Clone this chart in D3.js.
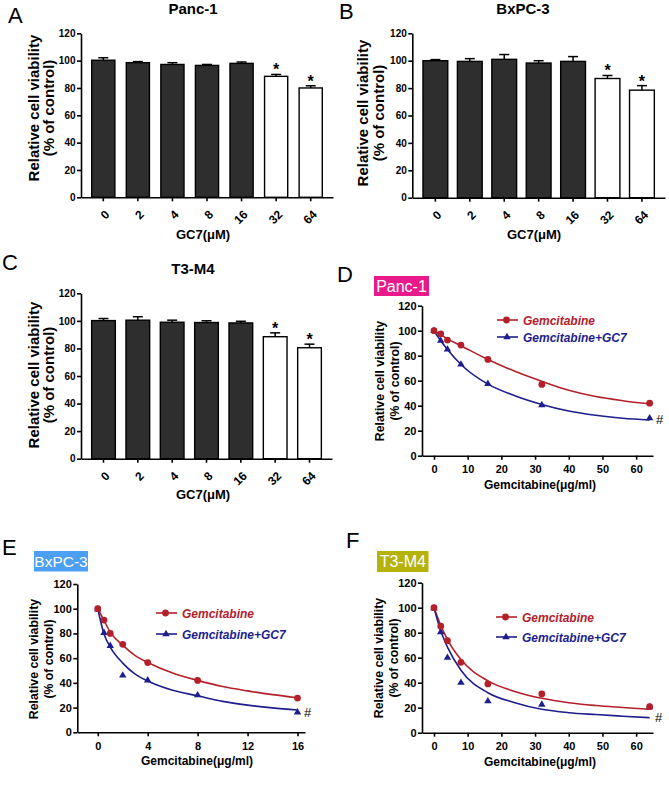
<!DOCTYPE html>
<html>
<head>
<meta charset="utf-8">
<script src="https://cdn.jsdelivr.net/npm/d3@7"></script>
<style>
body { margin: 0; background: #fff; }
text { font-family: "Liberation Sans", Arial, Helvetica, sans-serif; }
</style>
</head>
<body>
<div id="chart"></div>
<script>
// ---- data ----
var doses = ["0", "2", "4", "8", "16", "32", "64"];
var sigMarks = ["", "", "", "", "", "*", "*"];

var panc1Mean = [100.3, 98.5, 97.2, 96.5, 98, 88.5, 80];
var panc1Err = [1.8, 0.8, 1.3, 0.7, 1, 1.4, 1.6];
var bxpc3Mean = [100, 99.5, 101, 98.3, 99.5, 87, 78.5];
var bxpc3Err = [0.8, 2, 3.5, 1.7, 3.5, 2.2, 3.3];
var t3m4Mean = [100.2, 100.5, 99, 98.8, 98.5, 88.5, 80.5];
var t3m4Err = [1.5, 2.5, 1.5, 1.3, 1.2, 2.8, 2.6];

var gemDoses64 = [0, 2, 4, 8, 16, 32, 64];
var gemDoses16 = [0, 0.5, 1, 2, 4, 8, 16];
var seriesNames = ["Gemcitabine", "Gemcitabine+GC7"];

var panc1Gem = [100, 97.5, 92.5, 88.5, 77, 57, 42];
var panc1GemGC7 = [100, 92, 85, 73, 57.5, 40.5, 30];
var bxpc3Gem = [100, 90.8, 80, 71.2, 56.4, 42, 27.7];
var bxpc3GemGC7 = [99.5, 80.5, 70, 46, 42, 30, 16.2];
var t3m4Gem = [100, 85.2, 73.6, 56.3, 39, 31, 20.8];
var t3m4GemGC7 = [99.5, 80.5, 60, 40, 25.2, 22.5, 20.5];

// fitted curves
var fitX64 = [0, 2, 4, 8, 16, 24, 32, 40, 48, 56, 64];
var fitX16 = [0, 0.5, 1, 2, 3, 4, 6, 8, 10, 12, 14, 16];
var panc1GemFit = [100, 96.8, 93.5, 88, 77, 67.5, 59.5, 52.3, 47.3, 44, 41.5];
var panc1GemGC7Fit = [100, 92, 85, 73, 57.3, 48, 41, 35.7, 32.3, 30, 28.5];
var bxpc3GemFit = [100, 90.5, 81, 70.5, 62, 56.5, 48, 42, 37, 33.5, 30.5, 28];
var bxpc3GemGC7Fit = [100, 79.5, 69, 56, 47, 41.5, 34, 29.5, 25, 22, 19.8, 18];
var t3m4GemFit = [100, 86, 74.5, 58.5, 41.5, 33, 27.5, 24, 21.8, 20.2, 18.7];
var t3m4GemGC7Fit = [100, 81.5, 68.5, 50, 32, 24, 18.7, 16, 14.5, 13.2, 12];

var yTicks = [0, 20, 40, 60, 80, 100, 120];

var redColor = "#b3202a";
var blueColor = "#1e1e8c";

var svg = d3.select("#chart").append("svg")
    .attr("width", 669).attr("height", 790);

function styleAxis(g, size) {
    g.selectAll("path, line").attr("stroke", "#000").attr("stroke-width", 1.6);
    g.selectAll("text")
        .attr("font-size", size)
        .attr("font-weight", "bold")
        .attr("fill", "#000");
}

function yLabel(cx1, cx2, cy, size) {
    svg.append("text")
        .attr("transform", `translate(${cx1},${cy}) rotate(-90)`)
        .attr("text-anchor", "middle").attr("dy", "0.35em")
        .attr("font-size", size).attr("font-weight", "bold")
        .text("Relative cell viability");
    svg.append("text")
        .attr("transform", `translate(${cx2},${cy}) rotate(-90)`)
        .attr("text-anchor", "middle").attr("dy", "0.35em")
        .attr("font-size", size).attr("font-weight", "bold")
        .text("(% of control)");
}

function letter(ch, x, y) {
    svg.append("text").attr("x", x).attr("y", y)
        .attr("font-size", 22).text(ch);
}

// ---- bar panels (A, B, C) ----
function barPanel(p, means, errs) {
    var x = d3.scaleBand().domain(doses)
        .range([p.left, p.right])
        .paddingInner(p.pad).paddingOuter(0.31);
    var y = d3.scaleLinear().domain([0, 120]).range([p.bottom, p.top]);
    var g = svg.append("g");

    var rows = doses.map((d, i) => ({dose: d, mean: means[i], err: errs[i], sig: sigMarks[i]}));

    // error bars (upper half only)
    g.selectAll(".eb").data(rows).enter().append("line")
        .attr("x1", d => x(d.dose) + x.bandwidth() / 2)
        .attr("x2", d => x(d.dose) + x.bandwidth() / 2)
        .attr("y1", d => y(d.mean))
        .attr("y2", d => y(d.mean + d.err))
        .attr("stroke", "#000").attr("stroke-width", 1.5);
    g.selectAll(".cap").data(rows).enter().append("line")
        .attr("x1", d => x(d.dose) + x.bandwidth() / 2 - 5)
        .attr("x2", d => x(d.dose) + x.bandwidth() / 2 + 5)
        .attr("y1", d => y(d.mean + d.err))
        .attr("y2", d => y(d.mean + d.err))
        .attr("stroke", "#000").attr("stroke-width", 1.5);

    g.selectAll("rect").data(rows).enter().append("rect")
        .attr("x", d => x(d.dose))
        .attr("y", d => y(d.mean))
        .attr("width", x.bandwidth())
        .attr("height", d => y(0) - y(d.mean))
        .attr("fill", d => d.sig ? "#fff" : "#2e2e2e")
        .attr("stroke", "#000").attr("stroke-width", 1.4);

    g.selectAll(".star").data(rows.filter(d => d.sig)).enter().append("text")
        .attr("x", d => x(d.dose) + x.bandwidth() / 2)
        .attr("y", d => y(d.mean + d.err) + 1)
        .attr("text-anchor", "middle")
        .attr("font-size", 16).attr("font-weight", "bold")
        .text(d => d.sig);

    var yAxis = g.append("g").attr("transform", `translate(${p.left},0)`)
        .call(d3.axisLeft(y).tickValues(yTicks).tickSize(4).tickPadding(1.5).tickSizeOuter(0));
    styleAxis(yAxis, 10);

    var xAxis = g.append("g").attr("transform", `translate(0,${p.bottom})`)
        .call(d3.axisBottom(x).tickSize(4).tickSizeOuter(0));
    styleAxis(xAxis, 12);
    xAxis.selectAll("text")
        .attr("x", 0).attr("y", 0).attr("dy", "0.35em")
        .attr("transform", "translate(4,15) rotate(-45)")
        .style("text-anchor", "end");

    svg.append("text").attr("x", p.titleX).attr("y", p.titleY)
        .attr("text-anchor", "middle").attr("font-size", 15).attr("font-weight", "bold")
        .text(p.title);
    svg.append("text").attr("x", p.xlabX).attr("y", p.xlabY)
        .attr("text-anchor", "middle").attr("font-size", 13).attr("font-weight", "bold")
        .text("GC7(μM)");
    yLabel(p.yl1, p.yl2, p.ylc, 15);
    letter(p.letter, p.letterX, p.letterY);
}

barPanel({left: 81, right: 333, top: 33.3, bottom: 197.3, pad: 0.33,
    title: "Panc-1", titleX: 193, titleY: 14, xlabX: 203, xlabY: 239,
    yl1: 33.5, yl2: 49, ylc: 108, letter: "A", letterX: 8, letterY: 23}, panc1Mean, panc1Err);
barPanel({left: 412.3, right: 665, top: 33.3, bottom: 197.7, pad: 0.28,
    title: "BxPC-3", titleX: 523, titleY: 14, xlabX: 534, xlabY: 239,
    yl1: 363, yl2: 378.5, ylc: 113, letter: "B", letterX: 339, letterY: 19}, bxpc3Mean, bxpc3Err);
barPanel({left: 81, right: 332, top: 293.3, bottom: 458.7, pad: 0.31,
    title: "T3-M4", titleX: 193, titleY: 274, xlabX: 203, xlabY: 499,
    yl1: 33.5, yl2: 49, ylc: 375, letter: "C", letterX: 2, letterY: 270}, t3m4Mean, t3m4Err);

// ---- dose-response panels (D, E, F) ----
function curvePanel(p, doseArr, gem, combo, fitX, gemFit, comboFit) {
    var x = d3.scaleLinear().domain(p.xDomain).range([p.left, p.right]);
    var y = d3.scaleLinear().domain([0, 120]).range([p.bottom, p.top]);
    var g = svg.append("g");

    var line = d3.line()
        .x(d => x(d[0])).y(d => y(d[1]))
        .curve(d3.curveMonotoneX);

    var fits = [
        {color: redColor, pts: fitX.map((v, i) => [v, gemFit[i]])},
        {color: blueColor, pts: fitX.map((v, i) => [v, comboFit[i]])}
    ];
    g.selectAll(".fit").data(fits).enter().append("path")
        .attr("d", d => line(d.pts))
        .attr("fill", "none")
        .attr("stroke", d => d.color).attr("stroke-width", 1.6);

    var tri = d3.symbol().type(d3.symbolTriangle).size(24);
    g.selectAll(".tri").data(doseArr.map((v, i) => [v, combo[i]])).enter().append("path")
        .attr("d", tri)
        .attr("transform", d => `translate(${x(d[0])},${y(d[1])})`)
        .attr("fill", blueColor);
    g.selectAll(".dot").data(doseArr.map((v, i) => [v, gem[i]])).enter().append("circle")
        .attr("cx", d => x(d[0])).attr("cy", d => y(d[1]))
        .attr("r", 3.4)
        .attr("fill", redColor);

    var yAxis = g.append("g").attr("transform", `translate(${p.left},0)`)
        .call(d3.axisLeft(y).tickValues(yTicks).tickSize(4).tickPadding(1.5).tickSizeOuter(0));
    styleAxis(yAxis, 11);
    var xAxis = g.append("g").attr("transform", `translate(0,${p.bottom})`)
        .call(d3.axisBottom(x).tickValues(p.xTicks).tickSize(4).tickPadding(5.5).tickSizeOuter(0));
    styleAxis(xAxis, 11);

    // legend
    var leg = [
        {name: seriesNames[0], color: redColor, y: p.legY},
        {name: seriesNames[1], color: blueColor, y: p.legY + p.legGap}
    ];
    leg.forEach(function(l, i) {
        svg.append("line")
            .attr("x1", p.legX).attr("x2", p.legX + 21)
            .attr("y1", l.y).attr("y2", l.y)
            .attr("stroke", l.color).attr("stroke-width", 1.6);
        if (i === 0) {
            svg.append("circle").attr("cx", p.legX + 9.5).attr("cy", l.y)
                .attr("r", 3.4).attr("fill", l.color);
        } else {
            svg.append("path").attr("d", tri)
                .attr("transform", `translate(${p.legX + 10},${l.y})`)
                .attr("fill", l.color);
        }
        svg.append("text").attr("x", p.legX + 26).attr("y", l.y + 4.5)
            .attr("font-size", 12).attr("font-weight", "bold").attr("font-style", "italic")
            .attr("fill", l.color)
            .text(l.name);
    });

    svg.append("text").attr("x", p.hashX).attr("y", p.hashY)
        .attr("font-size", 13).text("#");

    // cell line tag
    svg.append("rect").attr("x", p.box[0]).attr("y", p.box[1])
        .attr("width", p.box[2]).attr("height", p.box[3])
        .attr("fill", p.boxColor);
    svg.append("text")
        .attr("x", p.box[0] + p.box[2] / 2).attr("y", p.box[1] + p.box[3] / 2)
        .attr("dy", "0.36em").attr("text-anchor", "middle")
        .attr("font-size", p.boxFont).attr("fill", "#fff")
        .text(p.title);

    svg.append("text").attr("x", p.xlabX).attr("y", p.xlabY)
        .attr("text-anchor", "middle").attr("font-size", 12).attr("font-weight", "bold")
        .text("Gemcitabine(μg/ml)");
    yLabel(p.yl1, p.yl2, p.ylc, 12.3);
    letter(p.letter, p.letterX, p.letterY);
}

curvePanel({left: 422, right: 653, top: 305.7, bottom: 455.7, xDomain: [-3.56, 65],
    xTicks: [0, 10, 20, 30, 40, 50, 60], legX: 497, legY: 320, legGap: 17,
    hashX: 656, hashY: 424, box: [374, 276, 55, 20], boxColor: "#e8198b", boxFont: 16,
    title: "Panc-1", xlabX: 540, xlabY: 489, yl1: 379.5, yl2: 394.5, ylc: 381,
    letter: "D", letterX: 337, letterY: 282},
    gemDoses64, panc1Gem, panc1GemGC7, fitX64, panc1GemFit, panc1GemGC7Fit);

curvePanel({left: 77.3, right: 305, top: 584, bottom: 732.3, xDomain: [-1.64, 16.6],
    xTicks: [0, 4, 8, 12, 16], legX: 156, legY: 613, legGap: 21,
    hashX: 304, hashY: 717, box: [34, 551, 54, 20.5], boxColor: "#4c9ff2", boxFont: 15.5,
    title: "BxPC-3", xlabX: 197, xlabY: 765, yl1: 34, yl2: 49, ylc: 659,
    letter: "E", letterX: 2, letterY: 555},
    gemDoses16, bxpc3Gem, bxpc3GemGC7, fitX16, bxpc3GemFit, bxpc3GemGC7Fit);

curvePanel({left: 422, right: 653, top: 582.7, bottom: 732.7, xDomain: [-3.56, 65],
    xTicks: [0, 10, 20, 30, 40, 50, 60], legX: 496, legY: 617, legGap: 20,
    hashX: 655, hashY: 722, box: [377, 551, 51.5, 21], boxColor: "#b5b20c", boxFont: 16,
    title: "T3-M4", xlabX: 540, xlabY: 766, yl1: 379, yl2: 394, ylc: 658,
    letter: "F", letterX: 346, letterY: 548},
    gemDoses64, t3m4Gem, t3m4GemGC7, fitX64, t3m4GemFit, t3m4GemGC7Fit);
</script>
</body>
</html>
